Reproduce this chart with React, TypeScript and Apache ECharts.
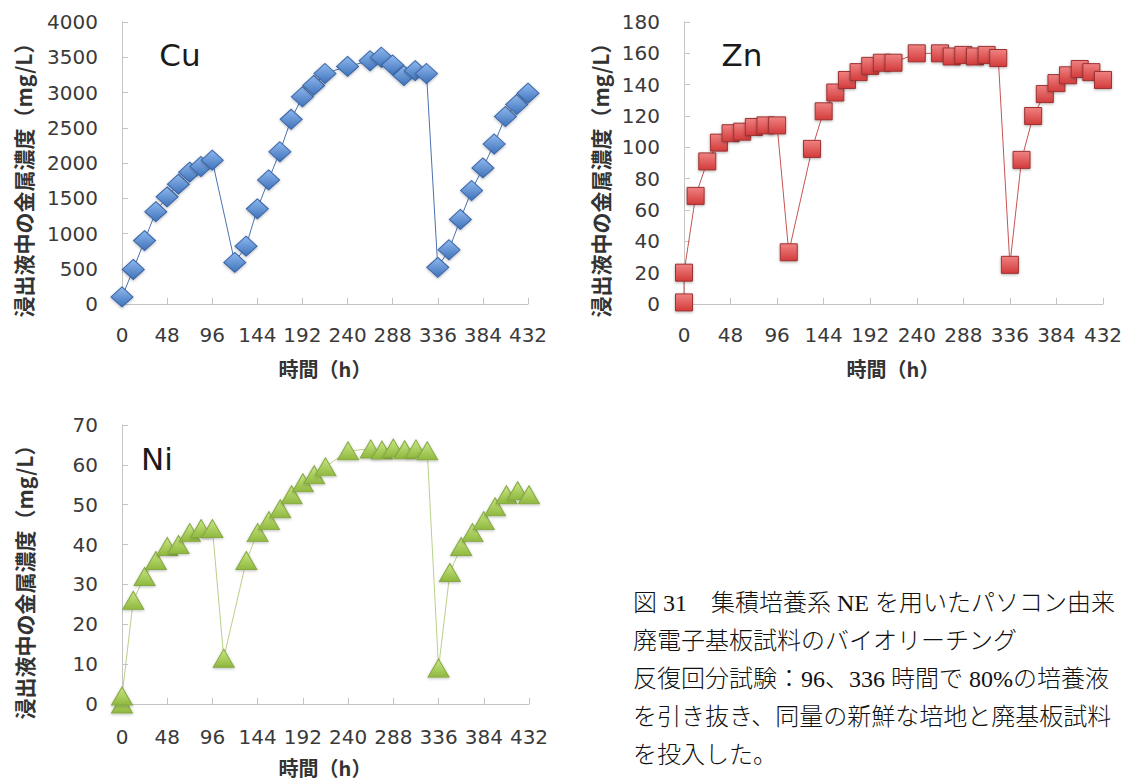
import React, { useEffect, useRef } from "react";
import * as echarts from "echarts";

// Sampling times (h) and leachate concentrations (mg/L)
const cuTime = [0, 12, 24, 36, 48, 60, 72, 84, 96, 120, 132, 144, 156, 168, 180, 192, 204, 216, 240, 264, 276, 288, 300, 312, 324, 336, 348, 360, 372, 384, 396, 408, 420, 432];
const cuValue = [100, 490, 900, 1310, 1520, 1700, 1870, 1950, 2040, 590, 820, 1350, 1760, 2160, 2620, 2940, 3100, 3270, 3370, 3450, 3500, 3390, 3240, 3310, 3270, 520, 770, 1200, 1610, 1930, 2270, 2660, 2830, 2990];

const znTime = [0, 0, 12, 24, 36, 48, 60, 72, 84, 96, 108, 132, 144, 156, 168, 180, 192, 204, 216, 240, 264, 276, 288, 300, 312, 324, 336, 348, 360, 372, 384, 396, 408, 420, 432];
const znValue = [1, 20, 69, 91, 103, 109, 110, 113, 114, 114, 33, 99, 123, 135, 143, 148, 152, 154, 154, 160, 160, 158, 159, 158, 159, 157, 25, 92, 120, 134, 141, 146, 150, 148, 143];

const niTime = [0, 0, 12, 24, 36, 48, 60, 72, 84, 96, 108, 132, 144, 156, 168, 180, 192, 204, 216, 240, 264, 276, 288, 300, 312, 324, 336, 348, 360, 372, 384, 396, 408, 420, 432];
const niValue = [0, 2, 26, 32, 36, 39.5, 40, 43, 44, 44, 11.5, 36, 43, 46, 49, 52.5, 55.5, 57.5, 59.5, 63.5, 64, 63.7, 64.2, 63.8, 64, 63.5, 9, 33, 39.5, 43, 46, 49.5, 52.5, 53.5, 52.5];

const metals = ["Cu", "Zn", "Ni"];
const yMax = [4000, 180, 70];
const yInterval = [500, 20, 10];
const xMax = 432;
const xInterval = 48;

const yName = "浸出液中の金属濃度（mg/L）";
const xName = "時間（h）";

const captionLines = [
  "図 31　集積培養系 NE を用いたパソコン由来",
  "廃電子基板試料のバイオリーチング",
  "反復回分試験：96、336 時間で 80%の培養液",
  "を引き抜き、同量の新鮮な培地と廃基板試料",
  "を投入した。",
];

const pairs = (t: number[], v: number[]) => t.map((x, i) => [x, v[i]]);

const grad = (top: string, bottom: string) =>
  new echarts.graphic.LinearGradient(0, 0, 0, 1, [
    { offset: 0, color: top },
    { offset: 1, color: bottom },
  ]);

export default function App() {
  const ref = useRef<HTMLDivElement>(null);

  useEffect(() => {
    if (!ref.current) return;
    const chart = echarts.init(ref.current, undefined, { renderer: "svg" });

    const grids = [
      { left: 122, top: 22, width: 406, height: 282 },
      { left: 684, top: 22, width: 419, height: 282 },
      { left: 122, top: 425, width: 407, height: 279 },
    ];

    const labelFont = "DejaVu Sans";
    const axisGray = "#c4c4c4";
    const plain = (v: number) => String(v);

    const xAxes = grids.map((_, i) => ({
      type: "value",
      gridIndex: i,
      min: 0,
      max: xMax,
      interval: xInterval,
      axisLine: { show: true, lineStyle: { color: axisGray, width: 1 } },
      axisTick: { show: true, inside: true, length: 6, lineStyle: { color: axisGray } },
      axisLabel: { color: "#3a3a3a", fontSize: 20, fontFamily: labelFont, margin: i === 2 ? 23 : 21, formatter: plain },
      splitLine: { show: false },
    }));

    const yAxes = grids.map((_, i) => ({
      type: "value",
      gridIndex: i,
      min: 0,
      max: yMax[i],
      interval: yInterval[i],
      axisLine: { show: true, lineStyle: { color: axisGray, width: 1 } },
      axisTick: { show: true, inside: true, length: 6, lineStyle: { color: axisGray } },
      axisLabel: { color: "#3a3a3a", fontSize: 20, fontFamily: labelFont, margin: 24, formatter: plain },
      splitLine: { show: false },
    }));

    const common = {
      type: "line",
      clip: false,
    };

    const series = [
      {
        ...common,
        name: "Cu",
        xAxisIndex: 0,
        yAxisIndex: 0,
        data: pairs(cuTime, cuValue),
        symbol: "diamond",
        symbolSize: [22, 20],
        lineStyle: { color: "#4a72b0", width: 1 },
        itemStyle: {
          color: grad("#8fb9ef", "#3f72ba"),
          borderColor: "#3a65a6",
          borderWidth: 1,
          shadowColor: "rgba(0,0,0,0.3)",
          shadowBlur: 3,
          shadowOffsetY: 1,
        },
      },
      {
        ...common,
        name: "Zn",
        xAxisIndex: 1,
        yAxisIndex: 1,
        data: pairs(znTime, znValue),
        symbol: "rect",
        symbolSize: 17,
        lineStyle: { color: "#c65451", width: 1 },
        itemStyle: {
          color: grad("#f08282", "#d33b3b"),
          borderColor: "#9c3232",
          borderWidth: 1,
          shadowColor: "rgba(0,0,0,0.3)",
          shadowBlur: 3,
          shadowOffsetY: 1,
        },
      },
      {
        ...common,
        name: "Ni",
        xAxisIndex: 2,
        yAxisIndex: 2,
        data: pairs(niTime, niValue),
        symbol: "triangle",
        symbolSize: [21, 18],
        lineStyle: { color: "#b9d08a", width: 1 },
        itemStyle: {
          color: grad("#c9e784", "#8fb83e"),
          borderColor: "#86a845",
          borderWidth: 1,
          shadowColor: "rgba(0,0,0,0.25)",
          shadowBlur: 3,
          shadowOffsetY: 1,
        },
      },
    ];

    const titlePos = [
      [180, 55],
      [742, 55],
      [157, 459],
    ];
    const yNamePos = [
      [23, 175],
      [600, 175],
      [24, 577],
    ];
    const xNamePos = [
      [325, 368],
      [893, 368],
      [325, 767],
    ];

    const graphic: any[] = [];
    metals.forEach((m, i) => {
      graphic.push({
        type: "text",
        x: titlePos[i][0],
        y: titlePos[i][1],
        style: {
          text: m,
          fontSize: 31,
          fontFamily: labelFont,
          fill: "#1a1a1a",
          align: "center",
          verticalAlign: "middle",
        },
      });
      graphic.push({
        type: "text",
        x: yNamePos[i][0],
        y: yNamePos[i][1],
        rotation: Math.PI / 2,
        style: {
          text: yName,
          fontSize: 21,
          fontWeight: "bold",
          fontFamily: "Noto Sans CJK JP",
          fill: "#333333",
          align: "center",
          verticalAlign: "middle",
        },
      });
      graphic.push({
        type: "text",
        x: xNamePos[i][0],
        y: xNamePos[i][1],
        style: {
          text: xName,
          fontSize: 20,
          fontWeight: "bold",
          fontFamily: "Noto Sans CJK JP",
          fill: "#333333",
          align: "center",
          verticalAlign: "middle",
        },
      });
    });

    // Figure caption, sized so each line stays inside the page
    captionLines.forEach((line, i) => {
      graphic.push({
        type: "text",
        x: 633,
        y: 603 + i * 38,
        style: {
          text: line,
          fontSize: 24,
          fontFamily: "'Liberation Serif', 'Noto Sans CJK JP'",
          fontWeight: 300,
          fill: "#111111",
          align: "left",
          verticalAlign: "middle",
        },
      });
    });

    chart.setOption({
      animation: false,
      backgroundColor: "#ffffff",
      grid: grids.map((g) => ({ ...g, containLabel: false })),
      xAxis: xAxes,
      yAxis: yAxes,
      series,
      graphic,
    });

    return () => chart.dispose();
  }, []);

  return (
    <div
      ref={ref}
      style={{ position: "absolute", left: 0, top: 0, width: 1127, height: 780 }}
    />
  );
}
